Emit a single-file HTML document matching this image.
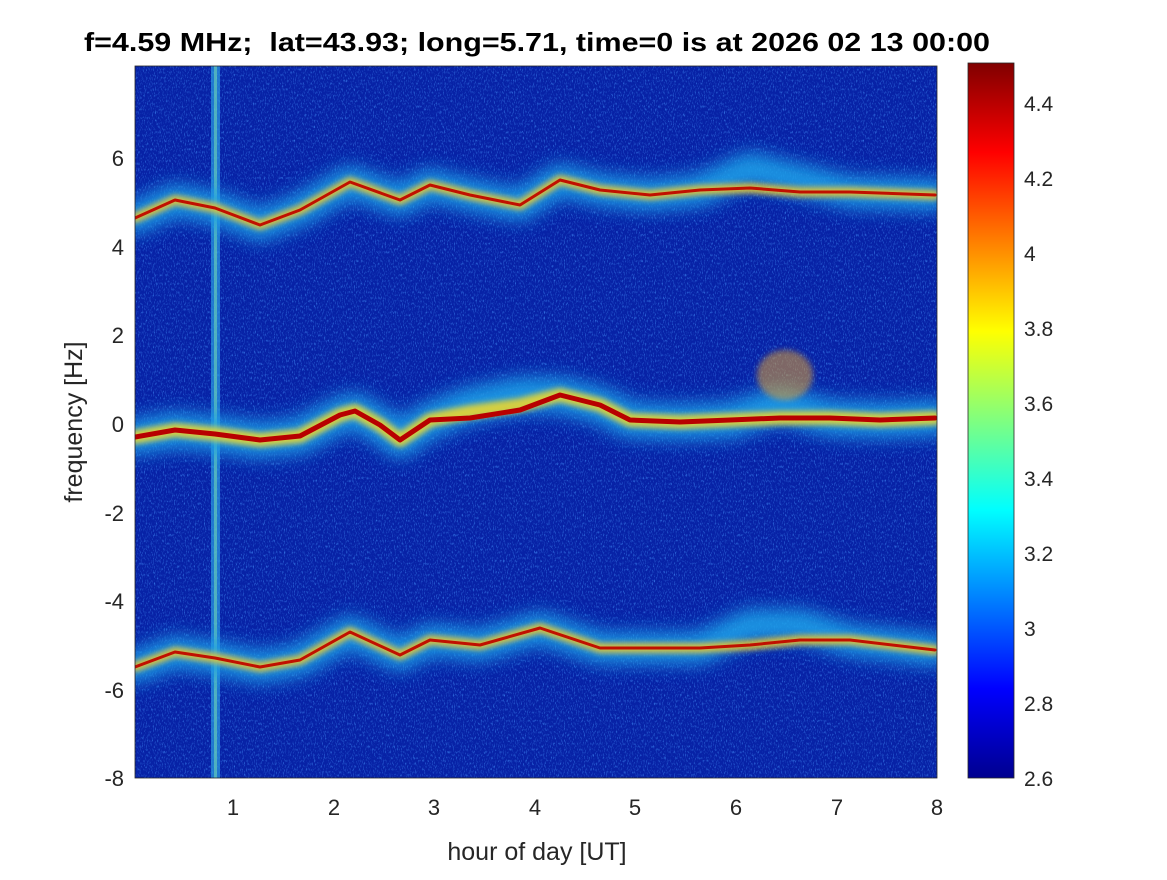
<!DOCTYPE html>
<html><head><style>
body{margin:0;background:#fff;width:1167px;height:875px;overflow:hidden}
text{font-family:"Liberation Sans",Arial,sans-serif}
</style></head><body>
<svg width="1167" height="875" viewBox="0 0 1167 875">
<defs>
<clipPath id="c"><rect x="135" y="66" width="802" height="712"/></clipPath>
<filter id="b1" filterUnits="userSpaceOnUse" x="0" y="0" width="1167" height="875"><feGaussianBlur stdDeviation="9"/></filter>
<filter id="b2" filterUnits="userSpaceOnUse" x="0" y="0" width="1167" height="875"><feGaussianBlur stdDeviation="3"/></filter>
<filter id="n" x="0" y="0" width="1" height="1">
<feTurbulence type="fractalNoise" baseFrequency="0.9 0.35" numOctaves="2" seed="3"/>
<feColorMatrix values="0 0 0 0 0.05  0 0 0 0 0.25  0 0 0 0 0.9  0 0 0 2.2 -1.15"/>
</filter>
<linearGradient id="jet" x1="0" y1="1" x2="0" y2="0">
<stop offset="0" stop-color="#00008f"/><stop offset="0.125" stop-color="#0000ff"/>
<stop offset="0.375" stop-color="#00ffff"/><stop offset="0.625" stop-color="#ffff00"/>
<stop offset="0.875" stop-color="#ff0000"/><stop offset="1" stop-color="#800000"/>
</linearGradient>
</defs>
<g clip-path="url(#c)">
<rect x="135" y="66" width="802" height="712" fill="#0722a6"/>
<rect x="135" y="66" width="802" height="712" filter="url(#n)"/>
<rect x="211" y="66" width="9" height="712" fill="#2a9be0" opacity="0.7"/>
<rect x="214" y="66" width="3" height="712" fill="#7fe8b0" opacity="0.5"/>
<g fill="none" stroke-linejoin="round" stroke-linecap="round">
<polyline stroke="#1aa0e8" stroke-width="36" filter="url(#b1)" opacity="0.9" points="135,437 175,430 215,434 260,440 300,436 340,415 355,411 380,425 400,440 430,420 470,405 520,395 560,395 600,405 630,420 680,422 730,420 780,405 830,418 880,420 935,418"/>
<polyline stroke="#1aa0e8" stroke-width="32" filter="url(#b1)" opacity="0.9" points="135,218 175,200 215,208 260,225 300,210 350,182 400,200 430,185 470,195 520,205 560,180 600,190 650,195 700,190 750,168 800,180 850,192 935,195"/>
<polyline stroke="#1aa0e8" stroke-width="32" filter="url(#b1)" opacity="0.9" points="135,667 175,652 215,658 260,667 300,660 350,632 400,655 430,640 480,645 540,628 600,648 650,648 700,648 750,625 800,625 850,640 935,650"/>
<polyline stroke="#e8d830" stroke-width="14" filter="url(#b2)" opacity="0.9" points="135,437 175,430 215,434 260,440 300,436 340,415 355,411 380,425 400,440 430,420 470,412 520,405 560,395 600,405 630,420 680,422 730,420 780,418 830,418 880,420 935,418"/>
<polyline stroke="#e8c830" stroke-width="10" filter="url(#b2)" opacity="0.9" points="135,218 175,200 215,208 260,225 300,210 350,182 400,200 430,185 470,195 520,205 560,180 600,190 650,195 700,190 750,188 800,192 850,192 935,195"/>
<polyline stroke="#e8c830" stroke-width="10" filter="url(#b2)" opacity="0.9" points="135,667 175,652 215,658 260,667 300,660 350,632 400,655 430,640 480,645 540,628 600,648 650,648 700,648 750,645 800,640 850,640 935,650"/>
<polyline stroke="#b80000" stroke-width="5" points="135,437 175,430 215,434 260,440 300,436 340,415 355,411 380,425 400,440 430,420 470,418 520,410 560,395 600,405 630,420 680,422 730,420 780,418 830,418 880,420 935,418"/>
<polyline stroke="#c01000" stroke-width="3" points="135,218 175,200 215,208 260,225 300,210 350,182 400,200 430,185 470,195 520,205 560,180 600,190 650,195 700,190 750,188 800,192 850,192 935,195"/>
<polyline stroke="#c01000" stroke-width="3" points="135,667 175,652 215,658 260,667 300,660 350,632 400,655 430,640 480,645 540,628 600,648 650,648 700,648 750,645 800,640 850,640 935,650"/>
</g>
<ellipse cx="785" cy="375" rx="28" ry="25" fill="#e0a030" opacity="0.55" filter="url(#b2)"/>
</g>
<rect x="135" y="66" width="802" height="712" fill="none" stroke="#262626" stroke-width="0.8"/>
<g font-size="22" fill="#262626" text-anchor="end">
<text x="124" y="166">6</text><text x="124" y="255">4</text><text x="124" y="343">2</text>
<text x="124" y="432">0</text><text x="124" y="521">-2</text><text x="124" y="609">-4</text>
<text x="124" y="698">-6</text><text x="124" y="786">-8</text>
</g>
<g font-size="22" fill="#262626" text-anchor="middle">
<text x="233" y="815">1</text><text x="334" y="815">2</text><text x="434" y="815">3</text>
<text x="535" y="815">4</text><text x="635" y="815">5</text><text x="736" y="815">6</text>
<text x="837" y="815">7</text><text x="937" y="815">8</text>
<text x="537" y="860" font-size="25">hour of day [UT]</text>
</g>
<text x="84" y="51" font-size="26" font-weight="bold" fill="#000" textLength="906" lengthAdjust="spacingAndGlyphs" xml:space="preserve">f=4.59 MHz;  lat=43.93; long=5.71, time=0 is at 2026 02 13 00:00</text>
<text transform="translate(82,422) rotate(-90)" font-size="25" fill="#262626" text-anchor="middle">frequency [Hz]</text>
<rect x="968" y="63" width="46" height="715" fill="url(#jet)" stroke="#262626" stroke-width="0.8"/>
<g font-size="21" fill="#262626">
<text x="1024" y="111">4.4</text><text x="1024" y="186">4.2</text><text x="1024" y="261">4</text>
<text x="1024" y="336">3.8</text><text x="1024" y="411">3.6</text><text x="1024" y="486">3.4</text>
<text x="1024" y="561">3.2</text><text x="1024" y="636">3</text><text x="1024" y="711">2.8</text>
<text x="1024" y="786">2.6</text>
</g>
</svg>
</body></html>
